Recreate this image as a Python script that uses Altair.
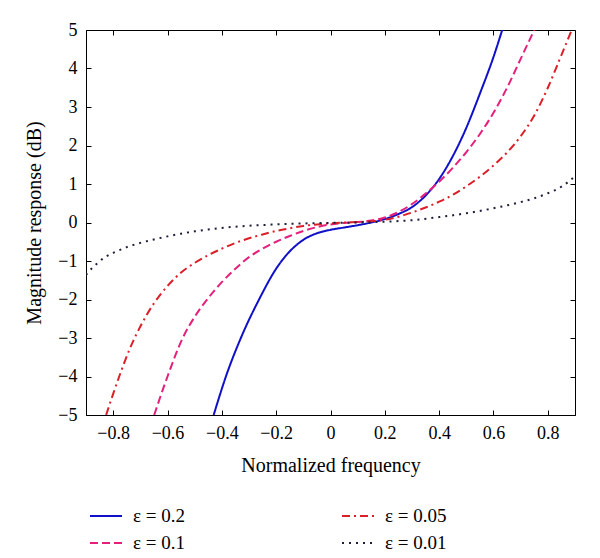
import altair as alt
import pandas as pd

# ---- data ----
series_labels = ["ε = 0.2", "ε = 0.1", "ε = 0.05", "ε = 0.01"]

freq_02 = [-0.43, -0.385, -0.33, -0.263, -0.20, -0.15, -0.10, -0.05, 0.0, 0.05, 0.10,
           0.15, 0.20, 0.25, 0.30, 0.35, 0.40, 0.45, 0.50, 0.55, 0.60, 0.632]
mag_02 = [-5, -4, -3, -2, -1.2, -0.75, -0.45, -0.28, -0.19, -0.13, -0.07,
          0.0, 0.09, 0.22, 0.40, 0.70, 1.13, 1.72, 2.46, 3.35, 4.3, 5]

freq_01 = [-0.649, -0.60, -0.544, -0.50, -0.452, -0.40, -0.35, -0.30, -0.25, -0.20, -0.15,
           -0.10, -0.05, 0.0, 0.05, 0.10, 0.15, 0.20, 0.25, 0.30, 0.35, 0.40, 0.45,
           0.50, 0.55, 0.60, 0.65, 0.70, 0.75]
mag_01 = [-5, -4, -3, -2.45, -1.98, -1.55, -1.2, -0.9, -0.68, -0.50, -0.35,
          -0.22, -0.12, -0.05, -0.01, 0.01, 0.05, 0.13, 0.27, 0.48, 0.75, 1.06, 1.42,
          1.83, 2.30, 2.85, 3.5, 4.25, 5]

freq_005 = [-0.826, -0.80, -0.77, -0.74, -0.70, -0.65, -0.60, -0.55, -0.50, -0.45, -0.40,
            -0.35, -0.30, -0.25, -0.20, -0.15, -0.10, -0.05, 0.0, 0.05, 0.10, 0.15,
            0.20, 0.25, 0.30, 0.35, 0.40, 0.45, 0.50, 0.55, 0.60, 0.65, 0.70, 0.75,
            0.80, 0.85, 0.888]
mag_005 = [-5, -4.45, -3.85, -3.3, -2.7, -2.1, -1.65, -1.3, -1.05, -0.85, -0.68,
           -0.53, -0.41, -0.31, -0.22, -0.15, -0.09, -0.05, -0.02, 0.0, 0.01, 0.03,
           0.07, 0.15, 0.26, 0.39, 0.54, 0.72, 0.94, 1.19, 1.48, 1.82, 2.24, 2.78,
           3.5, 4.35, 5]

freq_001 = [-0.9, -0.88, -0.86, -0.83, -0.80, -0.75, -0.70, -0.65, -0.60, -0.55, -0.50,
            -0.45, -0.40, -0.35, -0.30, -0.20, -0.10, 0.0, 0.1, 0.2, 0.3, 0.4, 0.5,
            0.6, 0.7, 0.75, 0.80, 0.85, 0.9]
mag_001 = [-1.36, -1.2, -1.07, -0.9, -0.79, -0.64, -0.53, -0.44, -0.36, -0.29, -0.23,
           -0.18, -0.14, -0.11, -0.085, -0.05, -0.025, -0.01, 0.0, 0.02, 0.06, 0.14, 0.24,
           0.37, 0.53, 0.63, 0.76, 0.93, 1.2]

x_ticks = [-0.8, -0.6, -0.4, -0.2, 0, 0.2, 0.4, 0.6, 0.8]
y_ticks = [-5, -4, -3, -2, -1, 0, 1, 2, 3, 4, 5]

legend_order = ["ε = 0.2", "ε = 0.1", "ε = 0.05", "ε = 0.01"]
legend_colors = ["#1010c8", "#e4207c", "#dc1e28", "#1e1e3c"]
legend_dashes = [[1, 0], [8, 4], [8, 4, 2, 4], [2, 5]]

rows = []
for lab, fs, ms in zip(series_labels,
                       [freq_02, freq_01, freq_005, freq_001],
                       [mag_02, mag_01, mag_005, mag_001]):
    for i, (f, m) in enumerate(zip(fs, ms)):
        rows.append({"series": lab, "f": f, "m": m, "order": i})
df = pd.DataFrame(rows)

W, H = 489, 385
FONT = "Liberation Serif"
FS = 18
TFS = 20
xscale = alt.Scale(domain=[-0.9, 0.9], nice=False, zero=False)
yscale = alt.Scale(domain=[-5, 5], nice=False, zero=False)


def make_legend():
    return alt.Legend(
        title=None, orient="none", legendX=3, legendY=469, columns=2,
        columnPadding=153, rowPadding=-5, symbolType="stroke", symbolSize=1024,
        symbolStrokeWidth=2, labelFont=FONT, labelFontSize=19, labelOffset=10,
        labelColor="black", padding=0,
    )


color_enc = alt.Color("series:N",
                      scale=alt.Scale(domain=legend_order, range=legend_colors),
                      legend=make_legend())
dash_enc = alt.StrokeDash("series:N",
                          scale=alt.Scale(domain=legend_order, range=legend_dashes),
                          legend=make_legend())

lines = alt.Chart(df).mark_line(strokeWidth=2, clip=True, interpolate="monotone").encode(
    x=alt.X("f:Q", scale=xscale, axis=alt.Axis(
        orient="bottom", values=x_ticks, format=".1~f", title="Normalized frequency",
        tickSize=0, ticks=False, labelPadding=9, titlePadding=13, grid=False,
        domainColor="black", labelFont=FONT, labelFontSize=FS, labelColor="black",
        titleFont=FONT, titleFontSize=TFS, titleFontWeight="normal", titleColor="black")),
    y=alt.Y("m:Q", scale=yscale, axis=alt.Axis(
        orient="left", values=y_ticks, format="d", title="Magnitude response (dB)",
        tickSize=0, ticks=False, labelPadding=9, titlePadding=13, grid=False,
        domainColor="black", labelFont=FONT, labelFontSize=FS, labelColor="black",
        titleFont=FONT, titleFontSize=TFS, titleFontWeight="normal", titleColor="black")),
    color=color_enc,
    strokeDash=dash_enc,
    order="order:Q",
)


def tick_layer(x_orient, y_orient):
    return alt.Chart(df).mark_line(strokeOpacity=0, clip=True).encode(
        x=alt.X("f:Q", scale=xscale, axis=alt.Axis(
            orient=x_orient, offset=-H, values=x_ticks, labels=False, domain=False,
            ticks=True, tickSize=5, tickColor="black", tickWidth=1, title=None, grid=False)),
        y=alt.Y("m:Q", scale=yscale, axis=alt.Axis(
            orient=y_orient, offset=-W, values=y_ticks, labels=False, domain=False,
            ticks=True, tickSize=5, tickColor="black", tickWidth=1, title=None, grid=False)),
        detail="series:N",
    )


chart = alt.layer(
    lines, tick_layer("top", "right"), tick_layer("bottom", "left")
).resolve_axis(x="independent", y="independent").properties(
    width=W, height=H,
    padding={"left": 78, "top": 22, "right": 17, "bottom": 143},
    autosize=alt.AutoSizeParams(type="none"),
    background="white",
).configure_view(stroke="black", strokeWidth=1)

chart.save("out.html", embed_options={"renderer": "svg", "actions": False})
